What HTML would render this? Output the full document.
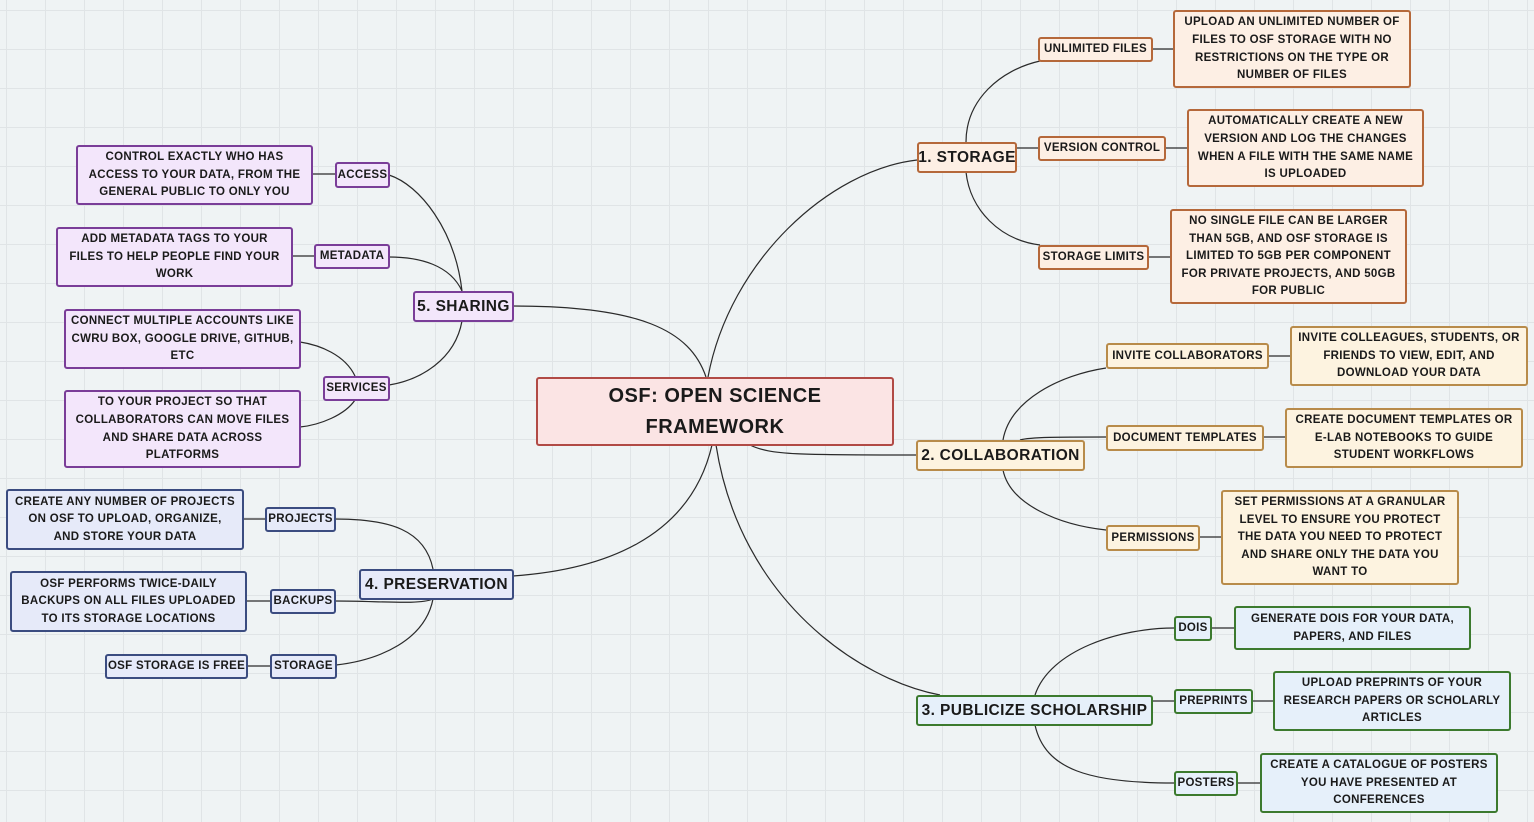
<!DOCTYPE html>
<html><head><meta charset="utf-8"><style>
*{margin:0;padding:0;box-sizing:border-box}
body{width:1534px;height:822px;overflow:hidden;position:relative;font-family:"Liberation Sans",Arial,sans-serif;font-weight:bold;color:#1a1a1a;
background-color:#eff3f4;
background-image:linear-gradient(to right,#e0e4e6 1.2px,transparent 1.2px),linear-gradient(to bottom,#e0e4e6 1.2px,transparent 1.2px);
background-size:39px 39px;background-position:6px 10px;}
.b{position:absolute;display:flex;align-items:center;justify-content:center;text-align:center;border:2px solid;border-radius:3px;font-size:11.5px;line-height:17.6px;letter-spacing:0.3px;white-space:nowrap;padding-top:1px}
.m{font-size:15.5px;letter-spacing:0.4px}
.o{background:#fdefe4;border-color:#b5683a}
.y{background:#fdf3e0;border-color:#b88b4a}
.g{background:#e6f0fa;border-color:#3c7a2e}
.p{background:#f3e6fb;border-color:#7a3d98}
.u{background:#e6eaf9;border-color:#3b4c80}
.r{background:#fbe4e4;border-color:#b14a45;font-size:20px;line-height:31px;letter-spacing:0.5px}
svg{position:absolute;left:0;top:0}
</style></head><body>
<svg width="1534" height="822" fill="none" stroke="#2a2a2a" stroke-width="1.2">
<path d="M708 377 C730 260 830 170 917 160"/>
<path d="M750 445 C770 455 800 455 916 455"/>
<path d="M716 445 C740 600 860 680 940 695"/>
<path d="M706 377 C690 330 640 306 513 306"/>
<path d="M712 445 C690 540 600 570 513 576"/>
<path d="M966 142 C966 100 1000 70 1040 61"/>
<path d="M1016 148 L1038 148"/>
<path d="M966 172 C970 210 1000 240 1040 245"/>
<path d="M1152 49 L1173 49 M1165 148 L1187 148 M1148 257 L1170 257"/>
<path d="M1003 440 C1010 400 1060 375 1106 368"/>
<path d="M1020 440 C1030 437 1060 437 1106 437"/>
<path d="M1003 470 C1010 505 1060 525 1106 530"/>
<path d="M1268 356 L1290 356 M1263 437 L1285 437 M1199 537 L1221 537"/>
<path d="M1035 695 C1050 650 1120 628 1174 628"/>
<path d="M1152 701 L1174 701"/>
<path d="M1035 725 C1045 770 1090 783 1174 783"/>
<path d="M1211 628 L1234 628 M1252 701 L1273 701 M1237 783 L1260 783"/>
<path d="M462 291 C455 230 420 185 389 175"/>
<path d="M462 291 C450 265 420 257 389 257"/>
<path d="M462 321 C455 360 420 380 389 385"/>
<path d="M355 376 C345 355 320 345 300 342"/>
<path d="M355 400 C345 415 320 425 300 427"/>
<path d="M335 174 L312 174 M314 256 L292 256"/>
<path d="M433 569 C425 530 390 519 335 519"/>
<path d="M433 599 C420 605 380 601 335 601"/>
<path d="M433 599 C425 640 380 660 336 665"/>
<path d="M265 519 L243 519 M270 601 L246 601 M270 666 L247 666"/>
</svg>

<div class="b r" style="left:536px;top:377px;width:358px;height:69px">OSF: OPEN SCIENCE<br>FRAMEWORK</div>

<div class="b o m" style="left:917px;top:142px;width:100px;height:31px">1. STORAGE</div>
<div class="b o" style="left:1038px;top:37px;width:115px;height:25px">UNLIMITED FILES</div>
<div class="b o" style="left:1173px;top:10px;width:238px;height:78px">UPLOAD AN UNLIMITED NUMBER OF<br>FILES TO OSF STORAGE WITH NO<br>RESTRICTIONS ON THE TYPE OR<br>NUMBER OF FILES</div>
<div class="b o" style="left:1038px;top:136px;width:128px;height:25px">VERSION CONTROL</div>
<div class="b o" style="left:1187px;top:109px;width:237px;height:78px">AUTOMATICALLY CREATE A NEW<br>VERSION AND LOG THE CHANGES<br>WHEN A FILE WITH THE SAME NAME<br>IS UPLOADED</div>
<div class="b o" style="left:1038px;top:245px;width:111px;height:25px">STORAGE LIMITS</div>
<div class="b o" style="left:1170px;top:209px;width:237px;height:95px">NO SINGLE FILE CAN BE LARGER<br>THAN 5GB, AND OSF STORAGE IS<br>LIMITED TO 5GB PER COMPONENT<br>FOR PRIVATE PROJECTS, AND 50GB<br>FOR PUBLIC</div>

<div class="b y m" style="left:916px;top:440px;width:169px;height:31px">2. COLLABORATION</div>
<div class="b y" style="left:1106px;top:343px;width:163px;height:26px">INVITE COLLABORATORS</div>
<div class="b y" style="left:1290px;top:326px;width:238px;height:60px">INVITE COLLEAGUES, STUDENTS, OR<br>FRIENDS TO VIEW, EDIT, AND<br>DOWNLOAD YOUR DATA</div>
<div class="b y" style="left:1106px;top:425px;width:158px;height:26px">DOCUMENT TEMPLATES</div>
<div class="b y" style="left:1285px;top:408px;width:238px;height:60px">CREATE DOCUMENT TEMPLATES OR<br>E-LAB NOTEBOOKS TO GUIDE<br>STUDENT WORKFLOWS</div>
<div class="b y" style="left:1106px;top:525px;width:94px;height:26px">PERMISSIONS</div>
<div class="b y" style="left:1221px;top:490px;width:238px;height:95px">SET PERMISSIONS AT A GRANULAR<br>LEVEL TO ENSURE YOU PROTECT<br>THE DATA YOU NEED TO PROTECT<br>AND SHARE ONLY THE DATA YOU<br>WANT TO</div>

<div class="b g m" style="left:916px;top:695px;width:237px;height:31px">3. PUBLICIZE SCHOLARSHIP</div>
<div class="b g" style="left:1174px;top:616px;width:38px;height:25px">DOIS</div>
<div class="b g" style="left:1234px;top:606px;width:237px;height:44px">GENERATE DOIS FOR YOUR DATA,<br>PAPERS, AND FILES</div>
<div class="b g" style="left:1174px;top:689px;width:79px;height:25px">PREPRINTS</div>
<div class="b g" style="left:1273px;top:671px;width:238px;height:60px">UPLOAD PREPRINTS OF YOUR<br>RESEARCH PAPERS OR SCHOLARLY<br>ARTICLES</div>
<div class="b g" style="left:1174px;top:771px;width:64px;height:25px">POSTERS</div>
<div class="b g" style="left:1260px;top:753px;width:238px;height:60px">CREATE A CATALOGUE OF POSTERS<br>YOU HAVE PRESENTED AT<br>CONFERENCES</div>

<div class="b p m" style="left:413px;top:291px;width:101px;height:31px">5. SHARING</div>
<div class="b p" style="left:335px;top:162px;width:55px;height:26px">ACCESS</div>
<div class="b p" style="left:76px;top:145px;width:237px;height:60px">CONTROL EXACTLY WHO HAS<br>ACCESS TO YOUR DATA, FROM THE<br>GENERAL PUBLIC TO ONLY YOU</div>
<div class="b p" style="left:314px;top:244px;width:76px;height:25px">METADATA</div>
<div class="b p" style="left:56px;top:227px;width:237px;height:60px">ADD METADATA TAGS TO YOUR<br>FILES TO HELP PEOPLE FIND YOUR<br>WORK</div>
<div class="b p" style="left:323px;top:376px;width:67px;height:25px">SERVICES</div>
<div class="b p" style="left:64px;top:309px;width:237px;height:60px">CONNECT MULTIPLE ACCOUNTS LIKE<br>CWRU BOX, GOOGLE DRIVE, GITHUB,<br>ETC</div>
<div class="b p" style="left:64px;top:390px;width:237px;height:78px">TO YOUR PROJECT SO THAT<br>COLLABORATORS CAN MOVE FILES<br>AND SHARE DATA ACROSS<br>PLATFORMS</div>

<div class="b u m" style="left:359px;top:569px;width:155px;height:31px">4. PRESERVATION</div>
<div class="b u" style="left:265px;top:507px;width:71px;height:25px">PROJECTS</div>
<div class="b u" style="left:6px;top:489px;width:238px;height:61px">CREATE ANY NUMBER OF PROJECTS<br>ON OSF TO UPLOAD, ORGANIZE,<br>AND STORE YOUR DATA</div>
<div class="b u" style="left:270px;top:589px;width:66px;height:25px">BACKUPS</div>
<div class="b u" style="left:10px;top:571px;width:237px;height:61px">OSF PERFORMS TWICE-DAILY<br>BACKUPS ON ALL FILES UPLOADED<br>TO ITS STORAGE LOCATIONS</div>
<div class="b u" style="left:270px;top:654px;width:67px;height:25px">STORAGE</div>
<div class="b u" style="left:105px;top:654px;width:143px;height:25px">OSF STORAGE IS FREE</div>
</body></html>
